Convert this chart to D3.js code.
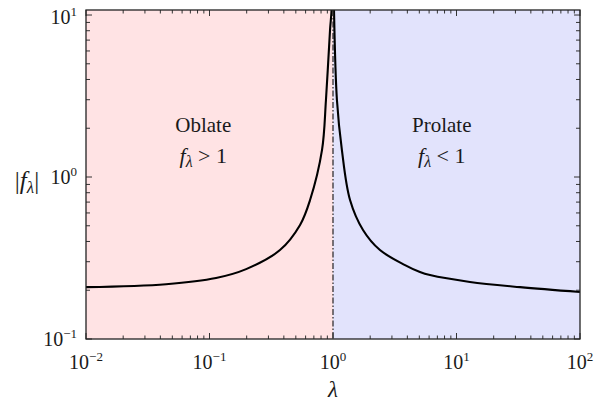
<!DOCTYPE html>
<meta charset="utf-8">
<style>
    body { margin: 0; background: #fff; }
    text { font-family: "Liberation Serif", "DejaVu Serif", serif; fill: #1a1a1a; }
</style>
<title>|f_lambda| vs lambda</title>
<body>
<script src="https://d3js.org/d3.v7.min.js"></script>
<script>
    // curve, oblate branch (lambda < 1)
    const lamLeft = [0.01, 0.0445, 0.113, 0.198, 0.372, 0.541, 0.652, 0.815, 0.877, 0.946, 0.973, 0.985];
    const fLeft   = [0.209, 0.218, 0.238, 0.270, 0.354, 0.506, 0.721, 1.47, 2.99, 8.07, 10.7, 20];
    // prolate branch (lambda > 1)
    const lamRight = [1.012, 1.019, 1.076, 1.18, 1.374, 1.75, 2.40, 3.83, 5.06, 6.10, 12.85, 32.7, 100];
    const fRight   = [20, 10.7, 2.99, 1.47, 0.721, 0.471, 0.354, 0.286, 0.259, 0.248, 0.225, 0.209, 0.195];

    const xExp = [-2, -1, 0, 1, 2];
    const yExp = [-1, 0, 1];

    const regionNames = ["Oblate", "Prolate"];
    const regionSigns = [">", "<"];
    const regionLam = [0.089, 7.6];
    const regionFill = ["#ffe3e4", "#e2e3fc"];

    const width = 594, height = 405;
    const margin = {left: 86, right: 14, top: 10, bottom: 66};

    const x = d3.scaleLog().domain([0.01, 100]).range([margin.left, width - margin.right]);
    const y = d3.scaleLog().domain([0.1, 10.74]).range([height - margin.bottom, margin.top]);

    let svg = d3.select('body').append('svg')
        .attr('width', width)
        .attr('height', height);

    svg.append('defs').append('clipPath').attr('id', 'plot')
        .append('rect')
        .attr('x', x(0.01)).attr('y', y(10.74))
        .attr('width', x(100) - x(0.01))
        .attr('height', y(0.1) - y(10.74));

    // shaded regions
    svg.append('rect')
        .attr('x', x(0.01)).attr('y', y(10.74))
        .attr('width', x(1) - x(0.01)).attr('height', y(0.1) - y(10.74))
        .attr('fill', regionFill[0]);
    svg.append('rect')
        .attr('x', x(1)).attr('y', y(10.74))
        .attr('width', x(100) - x(1)).attr('height', y(0.1) - y(10.74))
        .attr('fill', regionFill[1]);

    // dash-dot line at lambda = 1
    svg.append('line')
        .attr('x1', x(1)).attr('x2', x(1))
        .attr('y1', y(10.74)).attr('y2', y(0.1))
        .attr('stroke', '#111')
        .attr('stroke-width', 1.1)
        .attr('stroke-dasharray', '6,2,1.5,2');

    let line = d3.line()
        .x(d => x(d[0]))
        .y(d => y(d[1]))
        .curve(d3.curveCatmullRom.alpha(0.5));

    let g = svg.append('g').attr('clip-path', 'url(#plot)');
    [[lamLeft, fLeft], [lamRight, fRight]].forEach(b => {
        g.append('path')
            .datum(b[0].map((l, i) => [l, b[1][i]]))
            .attr('d', line)
            .attr('fill', 'none')
            .attr('stroke', '#000')
            .attr('stroke-width', 2.1);
    });

    // ticks, inward on all four sides
    let xMinor = [], yMinor = [];
    for (let e = -2; e < 2; e++) for (let k = 2; k < 10; k++) xMinor.push(k * Math.pow(10, e));
    for (let e = -1; e < 2; e++) for (let k = 2; k < 10; k++) {
        let v = k * Math.pow(10, e);
        if (v < 10.74) yMinor.push(v);
    }
    const x0 = x(0.01), x1 = x(100), y0 = y(0.1), y1 = y(10.74);
    let ticks = svg.append('g').attr('stroke', '#333').attr('stroke-width', 1);
    function xt(v, len) {
        ticks.append('line').attr('x1', x(v)).attr('x2', x(v)).attr('y1', y0).attr('y2', y0 - len);
        ticks.append('line').attr('x1', x(v)).attr('x2', x(v)).attr('y1', y1).attr('y2', y1 + len);
    }
    function yt(v, len) {
        ticks.append('line').attr('y1', y(v)).attr('y2', y(v)).attr('x1', x0).attr('x2', x0 + len);
        ticks.append('line').attr('y1', y(v)).attr('y2', y(v)).attr('x1', x1).attr('x2', x1 - len);
    }
    xMinor.forEach(v => xt(v, 3.5));
    xExp.forEach(e => xt(Math.pow(10, e), 6));
    yMinor.forEach(v => yt(v, 4));
    yExp.forEach(e => yt(Math.pow(10, e), 6));

    // frame
    svg.append('rect')
        .attr('x', x0).attr('y', y1)
        .attr('width', x1 - x0).attr('height', y0 - y1)
        .attr('fill', 'none')
        .attr('stroke', '#222')
        .attr('stroke-width', 1.3);

    function power(sel, e) {
        sel.append('tspan').text('10');
        sel.append('tspan').attr('dy', -8).attr('font-size', 13)
            .text(e < 0 ? '\u2212' + (-e) : '' + e);
    }

    // x tick labels
    xExp.forEach(e => {
        let t = svg.append('text')
            .attr('x', x(Math.pow(10, e))).attr('y', 369)
            .attr('text-anchor', 'middle')
            .attr('font-size', 20);
        power(t, e);
    });
    // y tick labels
    yExp.forEach(e => {
        let t = svg.append('text')
            .attr('x', x0 - 9).attr('y', Math.max(y(Math.pow(10, e)) + 7, 24))
            .attr('text-anchor', 'end')
            .attr('font-size', 20);
        power(t, e);
    });

    // axis labels
    svg.append('text')
        .attr('x', x(1)).attr('y', 397)
        .attr('text-anchor', 'middle')
        .attr('font-size', 23)
        .attr('font-style', 'italic')
        .text('\u03bb');

    let yl = svg.append('text')
        .attr('x', 27).attr('y', 189)
        .attr('text-anchor', 'middle')
        .attr('font-size', 25);
    yl.append('tspan').text('|');
    yl.append('tspan').attr('font-style', 'italic').text('f');
    yl.append('tspan').attr('font-style', 'italic').attr('font-size', 17).attr('dy', 4).text('\u03bb');
    yl.append('tspan').attr('dy', -4).text('|');

    // region labels
    regionNames.forEach((name, i) => {
        let cx = x(regionLam[i]);
        svg.append('text')
            .attr('x', cx).attr('y', 132)
            .attr('text-anchor', 'middle')
            .attr('font-size', 21)
            .text(name);
        let t = svg.append('text')
            .attr('x', cx).attr('y', 163)
            .attr('text-anchor', 'middle')
            .attr('font-size', 22);
        t.append('tspan').attr('font-style', 'italic').text('f');
        t.append('tspan').attr('font-style', 'italic').attr('font-size', 16).attr('dy', 4).text('\u03bb');
        t.append('tspan').attr('dy', -4).text(' ' + regionSigns[i] + ' 1');
    });
</script>
</body>
